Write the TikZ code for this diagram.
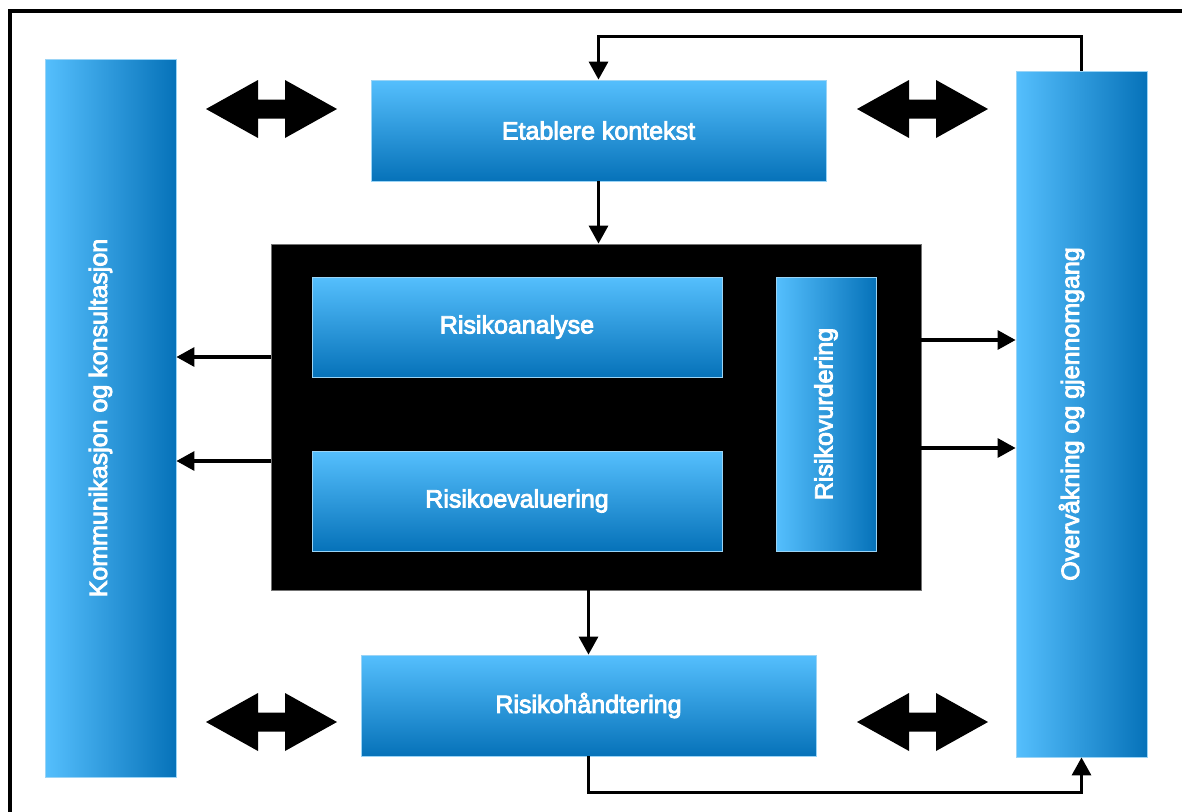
\documentclass[tikz,border=0pt]{standalone}
\usepackage{fontspec}
\setmainfont{Liberation Sans}[FakeBold=3.5]
\usetikzlibrary{arrows.meta}
\definecolor{bluelt}{HTML}{55BFFD}
\definecolor{bluedk}{HTML}{0672B9}
\definecolor{bluerim}{HTML}{9AD4F6}
\begin{document}
\begin{tikzpicture}[x=1pt,y=-1pt,
  lbl/.style={text=white, font=\fontsize{25}{30}\selectfont},
  base/.style={rectangle, inner sep=0pt, draw=bluerim, line width=0.8pt, lbl},
  hbox/.style={base, top color=bluelt, bottom color=bluedk},
  vbox/.style={base, left color=bluelt, right color=bluedk},
  conn/.style={line width=3.2pt, -{Triangle[length=18pt,width=19pt]}},
  dblarrow/.pic={\fill (-65.5,0) -- (-13.5,-29) -- (-13.5,-9.5) -- (13.5,-9.5) -- (13.5,-29)
     -- (65.5,0) -- (13.5,29) -- (13.5,9.5) -- (-13.5,9.5) -- (-13.5,29) -- cycle;}]
\useasboundingbox (0,0) rectangle (1182,811);
\fill[white] (0,0) rectangle (1182,811);
% frame
\draw[line width=4pt] (9.7,815) -- (9.7,11.3) -- (1186,11.3);

% boxes
\node[vbox, minimum width=131pt, minimum height=718pt] (komm) at (110.5,418) {};
\node[lbl, rotate=90] (kommtxt) at ([xshift=-10pt]komm.center) {Kommunikasjon og konsultasjon};
\node[vbox, minimum width=131pt, minimum height=686pt] (ovr) at (1081.5,414) {};
\node[lbl, rotate=90] (ovrtxt) at ([xshift=-10pt]ovr.center) {Overvåkning og gjennomgang};
\node[hbox, minimum width=455pt, minimum height=101pt] (etab) at (598.5,130.5) {Etablere kontekst};
\node[rectangle, fill=black, draw=black!55, line width=0.8pt, minimum width=650pt, minimum height=346pt] (blk) at (596,417) {};
\node[hbox, minimum width=410pt, minimum height=100pt] (ana) at (517,327) {Risikoanalyse};
\node[hbox, minimum width=410pt, minimum height=100pt] (eva) at (517,501) {Risikoevaluering};
\node[vbox, minimum width=100pt, minimum height=274pt] (vurd) at (826,414)
  {\rotatebox{90}{Risikovurdering}};
\node[hbox, minimum width=455pt, minimum height=101pt] (hand) at (588.5,705.5) {Risikohåndtering};

% double arrows
\pic (da1) at (271.5,109) {dblarrow};
\pic (da2) at (922.5,109) {dblarrow};
\pic (da3) at (271.5,722) {dblarrow};
\pic (da4) at (922.5,722) {dblarrow};

% connectors
\draw[conn] (ovr.north) -- ++(0,-34) -| (etab.north);
\draw[conn] (etab.south) -- (etab.south |- blk.north);
\draw[conn] (hand.north |- blk.south) -- (hand.north);
\draw[conn] (hand.south) -- ++(0,36) -| (ovr.south);
\draw[conn] ([yshift=60pt]blk.west) -- ([yshift=60pt]blk.west -| komm.east);
\draw[conn] ([yshift=-44pt]blk.west) -- ([yshift=-44pt]blk.west -| komm.east);
\draw[conn] ([yshift=77pt]blk.east) -- ([yshift=77pt]blk.east -| ovr.west);
\draw[conn] ([yshift=-31pt]blk.east) -- ([yshift=-31pt]blk.east -| ovr.west);
\end{tikzpicture}
\end{document}
